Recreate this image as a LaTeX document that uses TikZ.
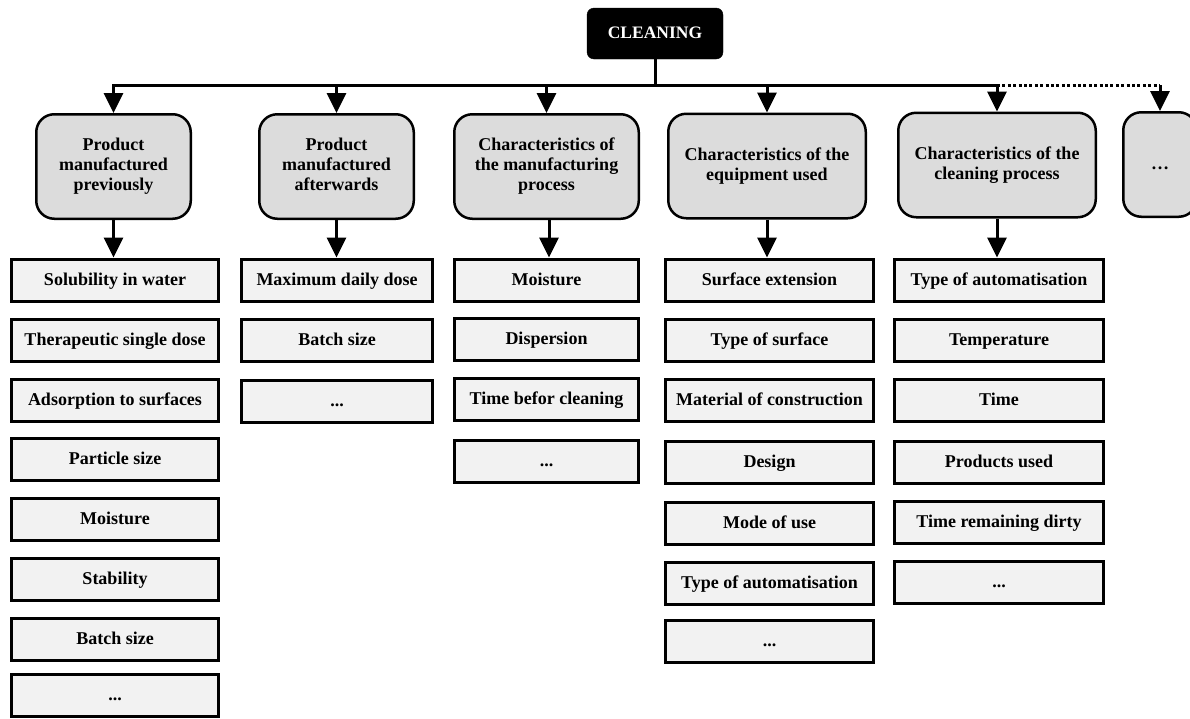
\documentclass[tikz,border=0pt]{standalone}
\usepackage{fontspec}
\setmainfont{Liberation Serif}
\usetikzlibrary{arrows.meta}
\definecolor{catgray}{RGB}{220,220,220}
\definecolor{itemgray}{RGB}{242,242,242}
\newcommand{\topstrut}{\rule{0pt}{14pt}}
\newcommand{\botstrut}{\rule[-4pt]{0pt}{4pt}}
\tikzset{
  txt/.style={font=\bfseries\fontsize{18}{20}\selectfont,
    execute at begin node=\topstrut, execute at end node=\botstrut},
  topbox/.style={txt, font=\bfseries\fontsize{17.5}{20}\selectfont, fill=black, draw=black, rounded corners=7pt, text=white,
    minimum width=136pt, minimum height=51pt, inner sep=0pt},
  catbox/.style={txt, draw=black, line width=2.5pt, fill=catgray, rounded corners=18pt,
    inner sep=0pt, align=center, minimum height=104.5pt},
  itembox/.style={txt, draw=black, line width=3pt, fill=itemgray, inner sep=0pt,
    minimum height=42pt},
  conn/.style={line width=3pt},
  link/.style={line width=3pt, -{Triangle[width=19pt,length=20pt]}},
}
\begin{document}
\begin{tikzpicture}[x=1pt,y=-1pt]
\clip (0,0) rectangle (1190,718);
\fill[white] (0,0) rectangle (1190,718);

\node[topbox] (top) at (655,33.5) {CLEANING};

\node[catbox, minimum width=154.5pt] (c1) at (113.5,166.5) {Product\\manufactured\\previously};
\node[catbox, minimum width=154.5pt] (c2) at (336.5,166.5) {Product\\manufactured\\afterwards};
\node[catbox, minimum width=184.5pt] (c3) at (546.5,166.5) {Characteristics of\\the manufacturing\\process};
\node[catbox, minimum width=197.5pt] (c4) at (767,166) {Characteristics of the\\equipment used};
\node[catbox, minimum width=197.5pt] (c5) at (997,165) {Characteristics of the\\cleaning process};
\node[catbox, minimum width=73.5pt] (c6) at (1160,164.5) {\dots};

% column 1
\node[itembox, minimum width=207pt] (a1) at (115,280) {Solubility in water};
\node[itembox, minimum width=207pt] (a2) at (115,340) {Therapeutic single dose};
\node[itembox, minimum width=207pt] (a3) at (115,400.5) {Adsorption to surfaces};
\node[itembox, minimum width=207pt] (a4) at (115,459.5) {Particle size};
\node[itembox, minimum width=207pt] (a5) at (115,519.5) {Moisture};
\node[itembox, minimum width=207pt] (a6) at (115,579.5) {Stability};
\node[itembox, minimum width=207pt] (a7) at (115,639) {Batch size};
\node[itembox, minimum width=207pt] (a8) at (115,695) {...};
% column 2
\node[itembox, minimum width=191pt] (b1) at (337,280) {Maximum daily dose};
\node[itembox, minimum width=191pt] (b2) at (337,340.5) {Batch size};
\node[itembox, minimum width=191pt] (b3) at (337,401) {...};
% column 3
\node[itembox, minimum width=184pt] (d1) at (546.5,280) {Moisture};
\node[itembox, minimum width=184pt] (d2) at (546.5,339.5) {Dispersion};
\node[itembox, minimum width=184pt] (d3) at (546.5,399.5) {Time befor cleaning};
\node[itembox, minimum width=184pt] (d4) at (546.5,461) {...};
% column 4
\node[itembox, minimum width=208pt] (e1) at (769.5,280) {Surface extension};
\node[itembox, minimum width=208pt] (e2) at (769.5,340) {Type of surface};
\node[itembox, minimum width=208pt] (e3) at (769.5,400) {Material of construction};
\node[itembox, minimum width=208pt] (e4) at (769.5,462) {Design};
\node[itembox, minimum width=208pt] (e5) at (769.5,523) {Mode of use};
\node[itembox, minimum width=208pt] (e6) at (769.5,583) {Type of automatisation};
\node[itembox, minimum width=208pt] (e7) at (769.5,641) {...};
% column 5
\node[itembox, minimum width=209pt] (f1) at (999,280) {Type of automatisation};
\node[itembox, minimum width=209pt] (f2) at (999,340) {Temperature};
\node[itembox, minimum width=209pt] (f3) at (999,400) {Time};
\node[itembox, minimum width=209pt] (f4) at (999,462) {Products used};
\node[itembox, minimum width=209pt] (f5) at (999,522.5) {Time remaining dirty};
\node[itembox, minimum width=209pt] (f6) at (999,582.5) {...};

% connectors
\coordinate (bar) at (655,85);
\draw[conn] (top.south) -- (bar);
\draw[conn, line cap=rect] (c1.north |- bar) -- (c5.north |- bar);
\draw[line width=3pt, dash pattern=on 3pt off 2.4pt] (c5.north |- bar) -- (c6.north |- bar);
\foreach \c in {c1,c2,c3,c4,c5,c6} {
  \draw[link] (\c.north |- bar) -- (\c.north);
}
\draw[link] (c1.south) -- (c1.south |- a1.north);
\draw[link] (c2.south) -- (c2.south |- b1.north);
\draw[link] ([xshift=2.5pt]c3.south) -- ([xshift=2.5pt]c3.south |- d1.north);
\draw[link] (c4.south) -- (c4.south |- e1.north);
\draw[link] (c5.south) -- (c5.south |- f1.north);
\end{tikzpicture}
\end{document}
